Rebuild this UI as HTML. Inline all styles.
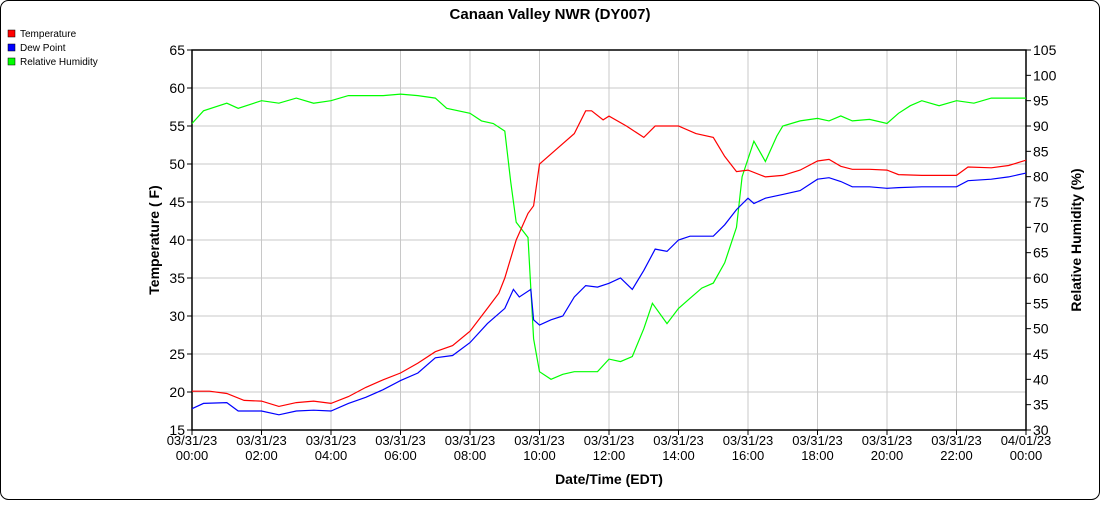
<!DOCTYPE html>
<html><head><meta charset="utf-8"><style>
body{margin:0;background:#fff;font-family:"Liberation Sans",Arial,sans-serif}
svg text{font-family:"Liberation Sans",Arial,sans-serif}
</style></head><body>
<svg id="chart" width="1100" height="500" xmlns="http://www.w3.org/2000/svg">
<rect x="0.5" y="0.5" width="1099" height="499" rx="8" fill="#fff" stroke="#000"/>
<text x="550" y="19" text-anchor="middle" font-size="15" font-weight="bold">Canaan Valley NWR (DY007)</text>
<g>
<g><rect x="8" y="30" width="7" height="7" fill="#f00" stroke="#000" stroke-width="0.5"/><text x="20" y="37" font-size="10">Temperature</text></g>
<g><rect x="8" y="44" width="7" height="7" fill="#00f" stroke="#000" stroke-width="0.5"/><text x="20" y="51" font-size="10">Dew Point</text></g>
<g><rect x="8" y="58" width="7" height="7" fill="#0f0" stroke="#000" stroke-width="0.5"/><text x="20" y="65" font-size="10">Relative Humidity</text></g>
</g>
<g id="grid"></g><g id="axes"></g><g id="series"></g>
<text transform="translate(159,240) rotate(-90)" text-anchor="middle" font-size="14" font-weight="bold">Temperature ( F)</text>
<text transform="translate(1081,240) rotate(-90)" text-anchor="middle" font-size="14" font-weight="bold">Relative Humidity (%)</text>
<text x="609" y="484" text-anchor="middle" font-size="14" font-weight="bold">Date/Time (EDT)</text>
</svg>
<script>
const tTimes=[0,0.5,1,1.5,2,2.5,3,3.5,4,4.5,5,5.5,6,6.5,7,7.5,8,8.5,8.83,9,9.33,9.67,9.83,10,10.5,11,11.33,11.5,11.83,12,12.5,13,13.33,13.67,14,14.5,15,15.33,15.67,16,16.5,17,17.5,18,18.33,18.67,19,19.5,20,20.33,21,22,22.33,23,23.5,24];
const tempValues=[20.1,20.1,19.8,18.9,18.8,18.1,18.6,18.8,18.5,19.4,20.6,21.6,22.5,23.8,25.3,26.1,28,31,33,35,40,43.5,44.5,50,52,54,57,57,55.8,56.3,55,53.5,55,55,55,54,53.5,51,49,49.2,48.3,48.5,49.2,50.4,50.6,49.7,49.3,49.3,49.2,48.6,48.5,48.5,49.6,49.5,49.8,50.5];
const dTimes=[0,0.33,1,1.33,2,2.5,3,3.5,4,4.5,5,5.5,6,6.5,7,7.5,8,8.5,9,9.25,9.42,9.75,9.83,10,10.33,10.67,11,11.33,11.67,12,12.33,12.67,13,13.33,13.67,14,14.33,14.67,15,15.33,15.67,16,16.17,16.5,17,17.5,18,18.33,18.67,19,19.5,20,20.33,21,21.5,22,22.33,23,23.5,24];
const dewValues=[17.8,18.5,18.6,17.5,17.5,17,17.5,17.6,17.5,18.5,19.3,20.3,21.5,22.5,24.5,24.8,26.5,29,31,33.5,32.5,33.5,29.5,28.8,29.5,30,32.5,34,33.8,34.3,35,33.5,36,38.8,38.5,40,40.5,40.5,40.5,42,44,45.5,44.8,45.5,46,46.5,48,48.2,47.7,47,47,46.8,46.9,47,47,47,47.8,48,48.3,48.8];
const rTimes=[0,0.33,1,1.33,2,2.5,3,3.5,4,4.5,5,5.5,6,6.5,7,7.33,8,8.33,8.67,9,9.17,9.33,9.67,9.83,10,10.33,10.67,11,11.33,11.67,12,12.33,12.67,13,13.25,13.67,14,14.33,14.67,15,15.33,15.67,15.83,16.17,16.5,16.83,17,17.5,18,18.33,18.67,19,19.5,20,20.33,20.67,21,21.5,22,22.5,23,23.5,24];
const rhValues=[90.5,93,94.5,93.5,95,94.5,95.5,94.5,95,96,96,96,96.3,96,95.5,93.5,92.5,91,90.5,89,79,71,68,48,41.5,40,41,41.5,41.5,41.5,44,43.5,44.5,50,55,51,54,56,58,59,63,70,80,87,83,88,90,91,91.5,91,92,91,91.3,90.5,92.5,94,95,94,95,94.5,95.5,95.5,95.5];
const leftTicks=[15,20,25,30,35,40,45,50,55,60,65];
const rightTicks=[30,35,40,45,50,55,60,65,70,75,80,85,90,95,100,105];
const xTickHours=[0,2,4,6,8,10,12,14,16,18,20,22,24];
const xTickDates=["03/31/23","03/31/23","03/31/23","03/31/23","03/31/23","03/31/23","03/31/23","03/31/23","03/31/23","03/31/23","03/31/23","03/31/23","04/01/23"];
const xTickTimes=["00:00","02:00","04:00","06:00","08:00","10:00","12:00","14:00","16:00","18:00","20:00","22:00","00:00"];

const L=192,R=1026,T=50,B=430,NS="http://www.w3.org/2000/svg";
const xs=h=>L+(h/24)*(R-L);
const yl=v=>B-(v-15)/(65-15)*(B-T);
const yr=v=>B-(v-30)/(105-30)*(B-T);
function mk(tag,attrs,parent){const e=document.createElementNS(NS,tag);for(const k in attrs)e.setAttribute(k,attrs[k]);parent.appendChild(e);return e;}
const grid=document.getElementById('grid'),axes=document.getElementById('axes'),series=document.getElementById('series');
leftTicks.forEach(v=>{
  const g=mk('line',{x1:L,x2:R,y1:yl(v),y2:yl(v),stroke:'#c8c8c8'},grid);
  
  
  mk('line',{x1:L-5,x2:L,y1:yl(v),y2:yl(v),stroke:'#000'},axes);
  const t=mk('text',{x:L-7,y:yl(v)+5,'text-anchor':'end','font-size':'14'},axes);t.textContent=v;
  
  
});
rightTicks.forEach(v=>{
  mk('line',{x1:R,x2:R+5,y1:yr(v),y2:yr(v),stroke:'#000'},axes);
  const t=mk('text',{x:R+7,y:yr(v)+5,'font-size':'14'},axes);t.textContent=v;
  
  
});
xTickHours.forEach((h,i)=>{
  const g=mk('line',{x1:xs(h),x2:xs(h),y1:T,y2:B,stroke:'#c8c8c8'},grid);
  
  
  mk('line',{x1:xs(h),x2:xs(h),y1:B,y2:B+5,stroke:'#000'},axes);
  const t=mk('text',{x:xs(h),y:B+15,'text-anchor':'middle','font-size':'13'},axes);t.textContent=xTickDates[i];
  
  
  const t2=mk('text',{x:xs(h),y:B+30,'text-anchor':'middle','font-size':'13'},axes);t2.textContent=xTickTimes[i];
  
  
});
mk('rect',{x:L,y:T,width:R-L,height:B-T,fill:'none',stroke:'#000','stroke-width':'1.5'},axes);
function line(times,vals,yf,color,name){
  const p=mk('polyline',{points:times.map((h,i)=>xs(h).toFixed(1)+','+yf(vals[i]).toFixed(1)).join(' '),fill:'none',stroke:color,'stroke-width':'1.2'},series);
  
  
}
line(rTimes,rhValues,yr,'#0f0','relative-humidity-line');
line(dTimes,dewValues,yl,'#00f','dew-point-line');
line(tTimes,tempValues,yl,'#f00','temperature-line');
</script>
</body></html>
